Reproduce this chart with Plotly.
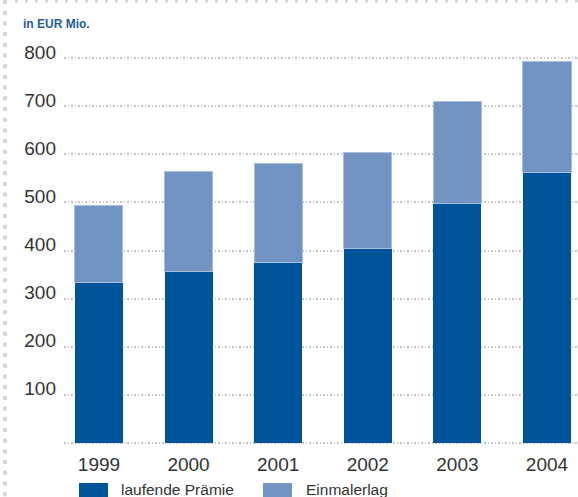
import plotly.graph_objects as go

years = ["1999", "2000", "2001", "2002", "2003", "2004"]
laufende = [333, 357, 374, 405, 498, 562]
gesamt = [494, 565, 582, 605, 710, 793]
einmal = [g - l for g, l in zip(gesamt, laufende)]
series_names = ["laufende Prämie", "Einmalerlag"]
y_ticks = [0, 100, 200, 300, 400, 500, 600, 700, 800]
y_ticktext = ["", "100", "200", "300", "400", "500", "600", "700", "800"]

W, H = 578, 497
ML, MR, MT, MB = 64, 0, 56, 52
PW, PH = W - ML - MR, H - MT - MB

def px_x(p):
    return (p - ML) / PW

def px_y(p):
    return (H - MB - p) / PH

dark = "#00559A"
light = "#7294C3"
colors = [dark, light]

fig = go.Figure()
fig.add_trace(go.Bar(x=years, y=laufende, name=series_names[0],
                     marker=dict(color=dark, line=dict(width=0))))
fig.add_trace(go.Bar(x=years, y=einmal, name=series_names[1],
                     marker=dict(color=light, line=dict(width=1, color="#a9bfdd"))))

# manual legend (large swatches as in the reference)
legend_swatch_x = [79, 263]
legend_text_x = [119, 304]
shapes = [
    dict(type="line", xref="paper", yref="paper", x0=px_x(5), x1=px_x(5), y0=px_y(0), y1=px_y(H),
         line=dict(color="#d6d6d6", width=4, dash="4px,6.7px")),
    dict(type="line", xref="paper", yref="paper", x0=px_x(15), x1=px_x(W), y0=px_y(1), y1=px_y(1),
         line=dict(color="#d6d6d6", width=3, dash="3px,7px")),
]
annotations = [dict(text="<b>in EUR Mio.</b>", x=px_x(21), y=px_y(24), xref="paper", yref="paper",
                    xanchor="left", yanchor="middle", showarrow=False,
                    font=dict(size=12, color="#1F5E9C"))]
for name, col, sx, tx in zip(series_names, colors, legend_swatch_x, legend_text_x):
    shapes.append(dict(type="rect", xref="paper", yref="paper",
                       x0=px_x(sx), x1=px_x(sx + 29), y0=px_y(483), y1=px_y(498),
                       fillcolor=col, line=dict(width=0)))
    annotations.append(dict(text=name, x=px_x(tx), y=px_y(489), xref="paper", yref="paper",
                            xanchor="left", yanchor="middle", showarrow=False,
                            font=dict(size=15.5, color="#333333")))

fig.update_layout(
    width=W, height=H,
    margin=dict(l=ML, r=MR, t=MT, b=MB, autoexpand=False),
    barmode="stack", bargap=0.464,
    plot_bgcolor="white", paper_bgcolor="white",
    font=dict(family="Liberation Sans, Arial, sans-serif", color="#333333"),
    showlegend=False,
    xaxis=dict(type="category", range=[-0.39, 5.346], showgrid=False, showline=False,
               ticks="", tickfont=dict(size=19, color="#333333"), ticklabelstandoff=6),
    yaxis=dict(range=[-5, 805], tickvals=y_ticks, ticktext=y_ticktext,
               showgrid=True, gridcolor="#c4c4c4", gridwidth=1.5, griddash="1.5px,2px",
               zeroline=False, showline=False, ticks="",
               tickfont=dict(size=19, color="#333333"), ticklabelstandoff=7,
               ticklabelshift=-6),
    annotations=annotations,
    shapes=shapes,
)

fig.write_html("out.html")
